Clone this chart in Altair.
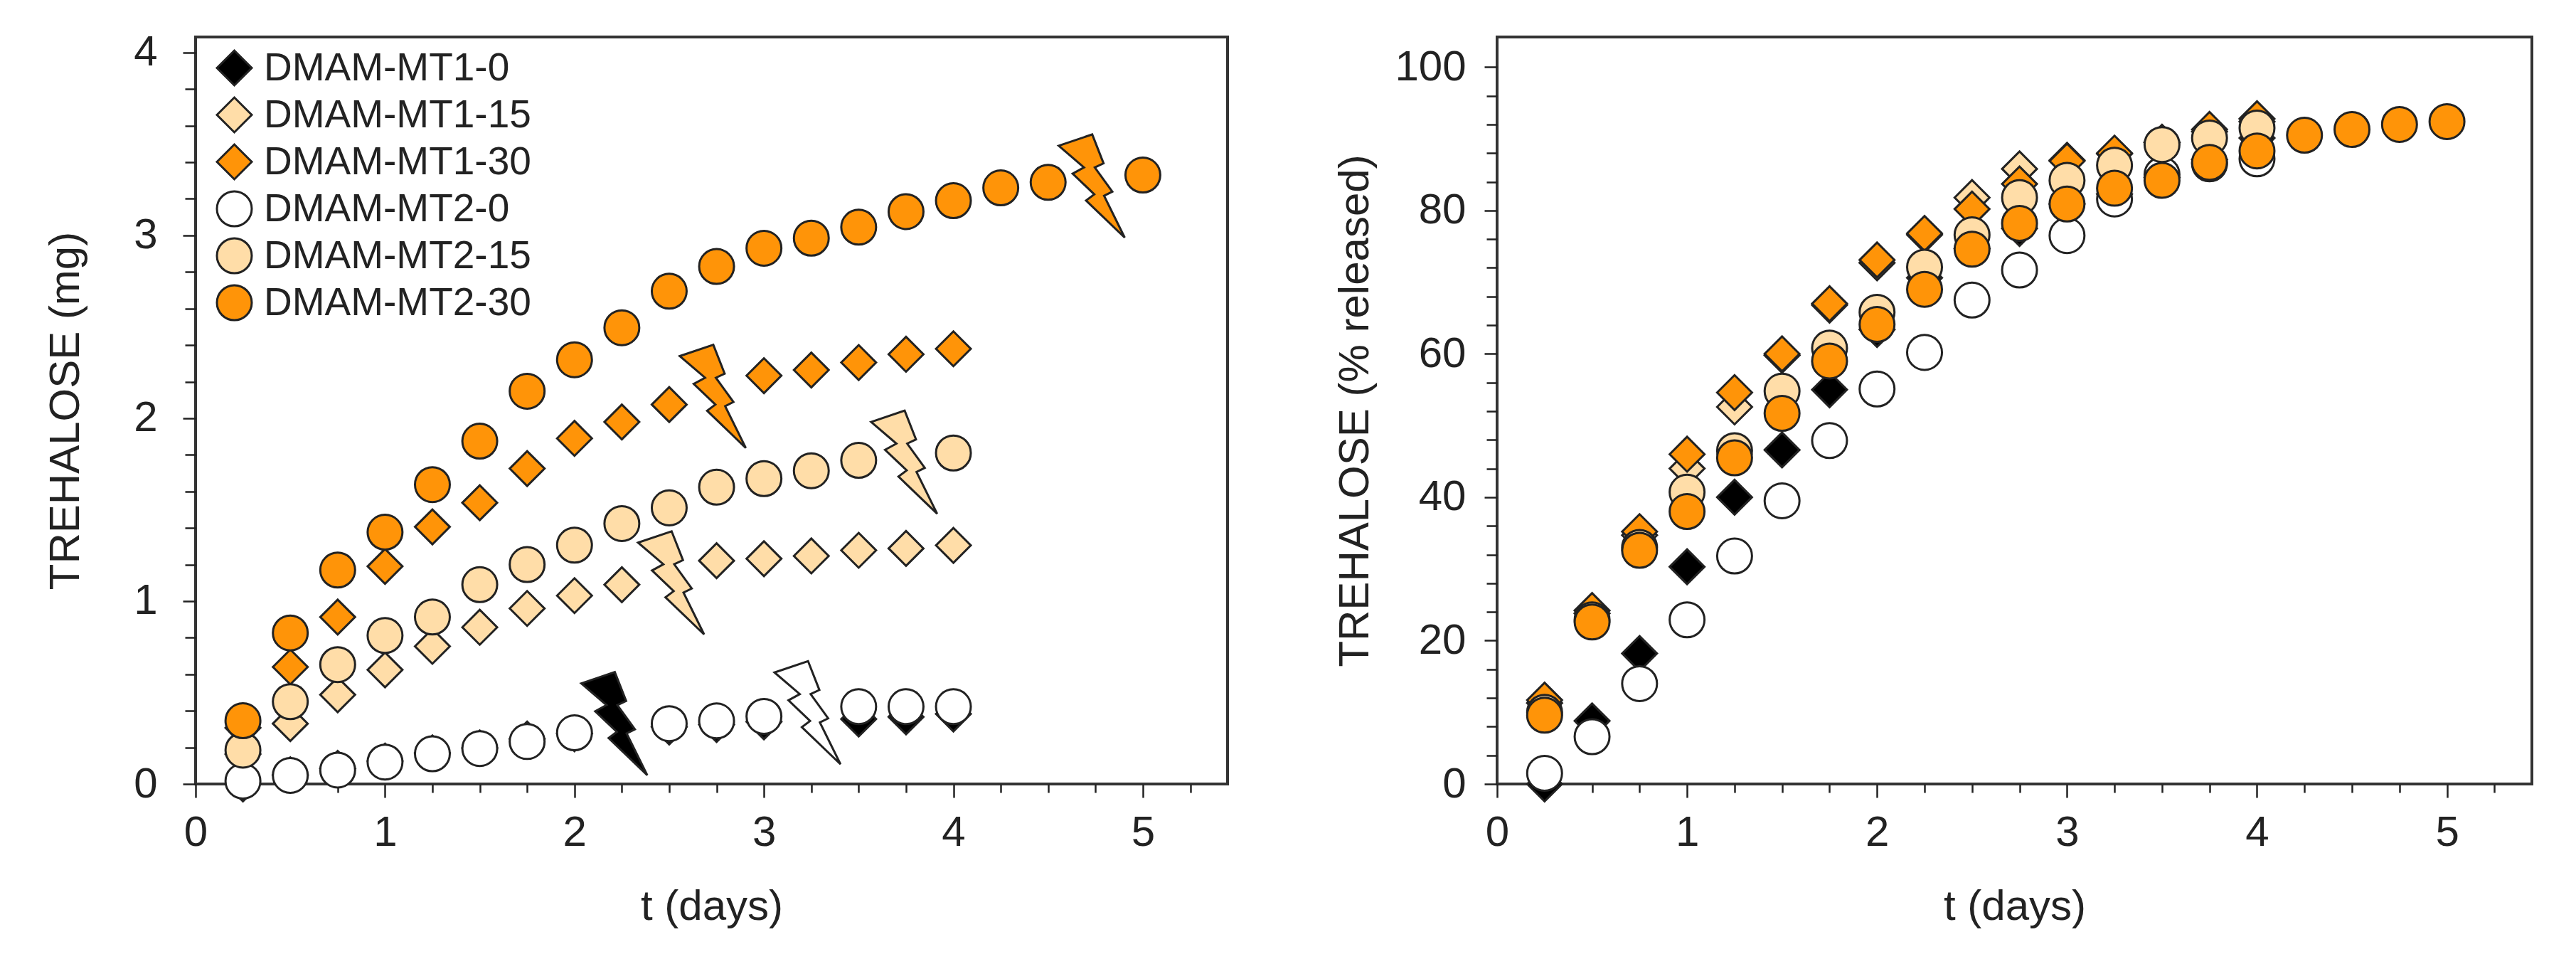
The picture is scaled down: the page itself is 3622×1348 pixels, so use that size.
import altair as alt
import pandas as pd

T = [0.25 * i for i in range(1, 21)]
NAMES = ["DMAM-MT1-0", "DMAM-MT1-15", "DMAM-MT1-30", "DMAM-MT2-0", "DMAM-MT2-15", "DMAM-MT2-30"]
FILLS = ["#000000", "#FFDDA8", "#FF9408", "#FFFFFF", "#FFDDA8", "#FF9408"]
SHAPES = ["diamond", "diamond", "diamond", "circle", "circle", "circle"]
SIZES = [2400, 2400, 2400, 1936, 1936, 1936]

# Left panel, mg (None = point hidden by a lightning bolt / absent)
L_MT1_0 = [0.0, 0.05, 0.085, 0.125, 0.17, 0.197, 0.246, 0.275, None, 0.312, 0.325, 0.34, None, 0.355, 0.367, 0.383]
L_MT1_15 = [0.163, 0.33, 0.488, 0.624, 0.753, 0.857, 0.96, 1.03, 1.09, None, 1.221, 1.232, 1.247, 1.278, 1.288, 1.305]
L_MT1_30 = [0.307, 0.64, 0.913, 1.19, 1.406, 1.538, 1.725, 1.89, 1.98, 2.075, None, 2.233, 2.264, 2.305, 2.35, 2.38]
L_MT2_0 = [0.016, 0.047, 0.076, 0.12, 0.165, 0.194, 0.232, 0.28, None, 0.33, 0.345, 0.37, None, 0.423, 0.423, 0.423]
L_MT2_15 = [0.185, 0.45, 0.653, 0.812, 0.913, 1.09, 1.20, 1.306, 1.424, 1.51, 1.623, 1.67, 1.713, 1.77, None, 1.81]
L_MT2_30 = [0.346, 0.826, 1.17, 1.377, 1.637, 1.875, 2.148, 2.32, 2.495, 2.695, 2.83, 2.93, 2.985, 3.045, 3.13, 3.19, 3.26, 3.29, None, 3.33]
LEFT = [L_MT1_0, L_MT1_15, L_MT1_30, L_MT2_0, L_MT2_15, L_MT2_30]

# Right panel, % released
R_MT1_0 = [0.0, 8.8, 18.2, 30.3, 40.0, 46.6, 55.0, 63.4, 70.6, 74.7, 77.5, 80.9, 82.3, 84.6, 87.1, 90.1]
R_MT1_15 = [11.3, 23.8, 34.7, 44.0, 52.6, 59.8, 66.8, 72.7, 76.6, 81.8, 85.8, 87.0, 87.9, 89.5, 91.0, 92.4]
R_MT1_30 = [11.7, 24.2, 35.2, 46.0, 54.6, 60.0, 67.0, 73.1, 76.8, 80.2, 83.7, 86.9, 88.0, 89.5, 91.3, 92.8]
R_MT2_0 = [1.5, 6.6, 14.0, 22.9, 31.8, 39.5, 47.9, 55.1, 60.2, 67.5, 71.7, 76.5, 81.6, 85.0, 86.5, 87.2]
R_MT2_15 = [10.0, 22.9, 33.0, 40.7, 46.5, 54.8, 60.8, 65.8, 72.1, 76.6, 81.8, 84.2, 86.3, 89.2, 90.1, 91.5]
R_MT2_30 = [9.6, 22.6, 32.6, 38.0, 45.5, 51.7, 59.0, 64.1, 69.0, 74.6, 78.2, 80.9, 83.1, 84.2, 86.7, 88.3, 90.5, 91.3, 92.0, 92.4]
RIGHT = [R_MT1_0, R_MT1_15, R_MT1_30, R_MT2_0, R_MT2_15, R_MT2_30]

# Lightning bolts on the left panel
BOLT_T = [2.21, 3.23, 2.51, 3.74, 2.73, 4.73]
BOLT_Y = [0.33, 0.39, 1.10, 1.76, 2.12, 3.27]
BOLT_SERIES = ["DMAM-MT1-0", "DMAM-MT2-0", "DMAM-MT1-15", "DMAM-MT2-15", "DMAM-MT1-30", "DMAM-MT2-30"]
BOLT_PATH = "M-0.64,-0.78L0.01,-1L0.23,-0.44L0.06,-0.36L0.40,0.11L0.24,0.19L0.64,1L-0.11,0.28L0.05,0.16L-0.37,-0.24L-0.15,-0.36Z"

X_MAJOR = [0, 1, 2, 3, 4, 5]
X_MINOR = [0.25 * i for i in range(1, 22) if i % 4]
Y_MAJOR_L = [0, 1, 2, 3, 4]
Y_MINOR_L = [0.2 * i for i in range(1, 20) if i % 5]
Y_MAJOR_R = [0, 20, 40, 60, 80, 100]
Y_MINOR_R = [4 * i for i in range(1, 26) if i % 5]

FONT = "Liberation Sans"
INK = "#222222"
FRAME = "#333333"


def frame(series_lists):
    rows = []
    for name, vals in zip(NAMES, series_lists):
        for t, v in zip(T, vals):
            if v is not None:
                rows.append({"t": t, "v": v, "series": name})
    return pd.DataFrame(rows)


def panel(series_lists, ydom, ymajor, yminor, ytitle, w, h, bolts, legend, lab_pad, title_pad):
    df = frame(series_lists)
    xs = alt.Scale(domain=[0, 5.447], nice=False, zero=False)
    ys = alt.Scale(domain=ydom, nice=False, zero=False)
    color_scale = alt.Scale(domain=NAMES, range=FILLS)
    minor = alt.Chart(df).mark_point(opacity=0).encode(
        x=alt.X("t:Q", scale=xs, axis=alt.Axis(orient="bottom", values=X_MINOR, labels=False, title=None,
                                               domain=False, grid=False, tickSize=12, tickWidth=2.5, tickColor=INK)),
        y=alt.Y("v:Q", scale=ys, axis=alt.Axis(orient="left", values=yminor, labels=False, title=None,
                                               domain=False, grid=False, tickSize=15, tickWidth=2.5, tickColor=INK)),
    )
    pts = alt.Chart(df).mark_point(filled=True, opacity=1, strokeWidth=3).encode(
        x=alt.X("t:Q", scale=xs, axis=alt.Axis(
            orient="bottom", values=X_MAJOR, title="t (days)", format="d", grid=False, domain=False,
            tickSize=19, tickWidth=2.5, tickColor=INK, labelFont=FONT, labelFontSize=60, labelColor=INK,
            labelPadding=20, labelFlush=False, titleFont=FONT, titleFontSize=60, titleFontWeight="normal",
            titleColor=INK, titlePadding=45)),
        y=alt.Y("v:Q", scale=ys, axis=alt.Axis(
            orient="left", values=ymajor, title=ytitle, format="d", grid=False, domain=False,
            tickSize=18, tickWidth=2.5, tickColor=INK, labelFont=FONT, labelFontSize=60, labelColor=INK,
            labelPadding=lab_pad, titleFont=FONT, titleFontSize=60, titleFontWeight="normal",
            titleColor=INK, titlePadding=title_pad)),
        fill=alt.Fill("series:N", scale=color_scale, legend=legend),
        stroke=alt.Stroke("series:N", scale=alt.Scale(domain=NAMES, range=[INK] * len(NAMES)), legend=legend),
        shape=alt.Shape("series:N", scale=alt.Scale(domain=NAMES, range=SHAPES), legend=legend),
        size=alt.Size("series:N", scale=alt.Scale(domain=NAMES, range=SIZES), legend=legend),
    )
    layers = [minor, pts]
    if bolts:
        bd = pd.DataFrame({"t": BOLT_T, "v": BOLT_Y, "series": BOLT_SERIES})
        layers.append(
            alt.Chart(bd).mark_point(shape=BOLT_PATH, filled=True, opacity=1, size=21025,
                                     stroke=INK, strokeWidth=3).encode(
                x=alt.X("t:Q", scale=xs, axis=None),
                y=alt.Y("v:Q", scale=ys, axis=None),
                fill=alt.Fill("series:N", scale=color_scale),
            )
        )
    return alt.layer(*layers).resolve_axis(x="independent", y="independent").properties(width=w, height=h)


legend = alt.Legend(
    orient="none", legendX=27, legendY=16, title=None, labelFont=FONT, labelFontSize=55, labelColor=INK,
    symbolStrokeWidth=3, symbolOpacity=1, labelOffset=14, rowPadding=5, labelLimit=600,
)

left = panel(LEFT, [0, 4.085], Y_MAJOR_L, Y_MINOR_L, "TREHALOSE (mg)", 1451, 1050, True, legend, 36, 64)
right = panel(RIGHT, [0, 104.2], Y_MAJOR_R, Y_MINOR_R, "TREHALOSE (% released)", 1455, 1050, False, None, 26, 24)

chart = alt.hconcat(left, right, spacing=145).properties(
    padding={"left": 52, "top": 33, "right": 5, "bottom": 5}, background="white"
).configure_view(stroke=FRAME, strokeWidth=4)

chart.save("out.html", embed_options={"renderer": "svg", "actions": False})
